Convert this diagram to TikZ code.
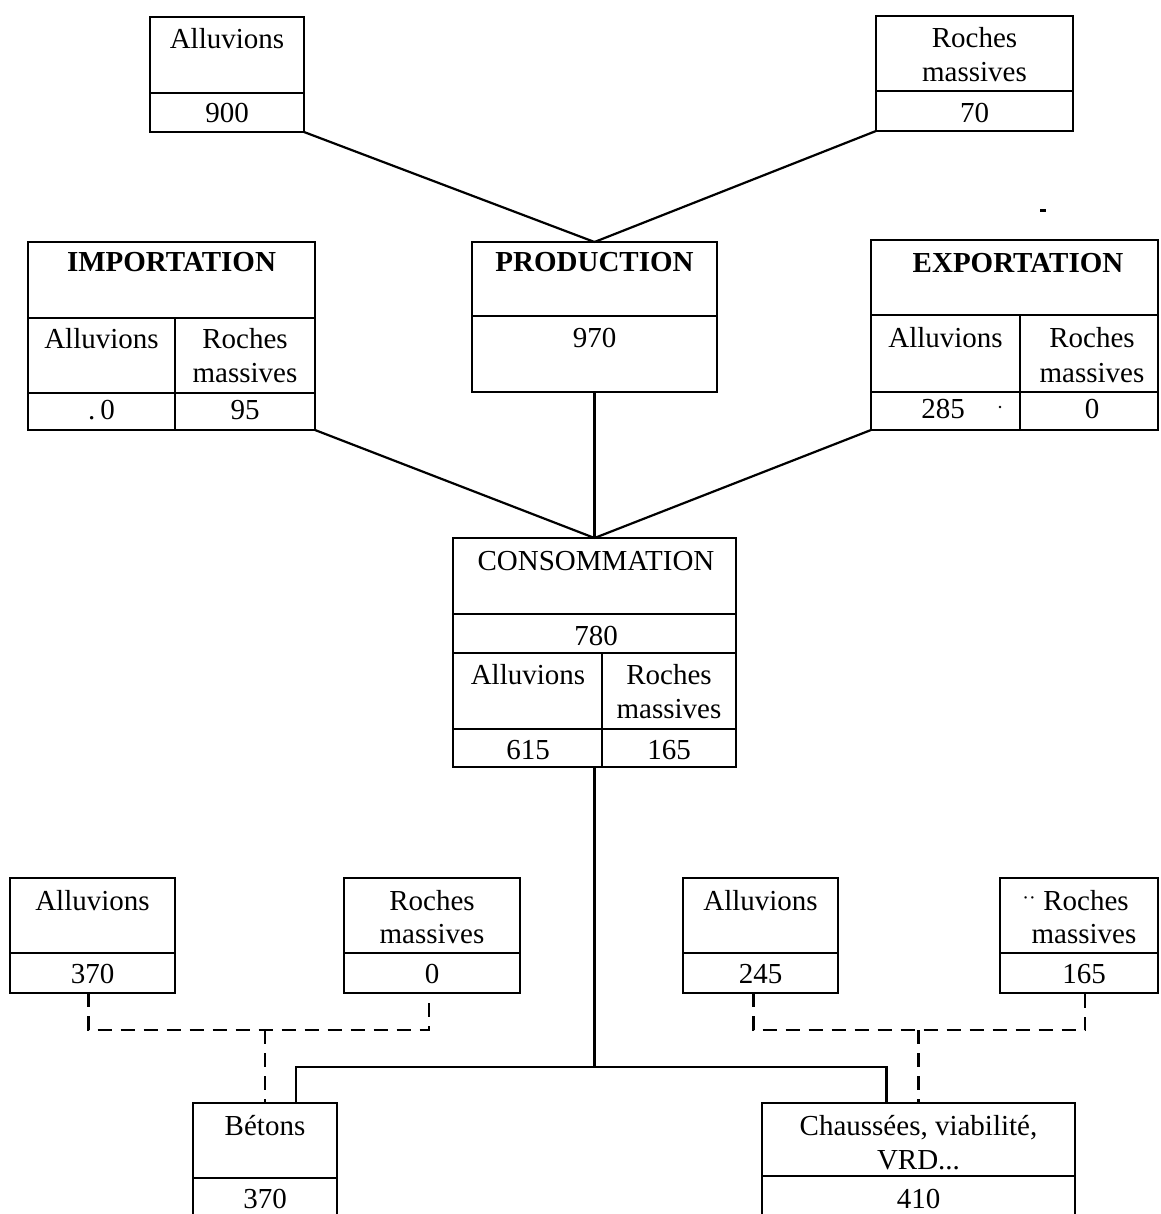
\documentclass[tikz,border=0pt]{standalone}
\usepackage{fontspec}
\setmainfont{Liberation Serif}
\newcommand{\lbfont}{\fontsize{29}{34}\selectfont}
\begin{document}
\begin{tikzpicture}[x=1pt,y=-1pt,
  box/.style={draw, line width=2.6pt, anchor=north west, inner sep=0pt, outer sep=0pt},
  lbl/.style={anchor=base, inner sep=0pt, font=\lbfont},
  hd/.style={lbl, font=\lbfont\bfseries},
  conn/.style={line width=2.2pt},
  dconn/.style={line width=2.2pt, dash pattern=on 14pt off 9pt},
  div/.style={line width=2.4pt}]
\useasboundingbox (0,0) rectangle (1160,1214);
\fill[white] (0,0) rectangle (1160,1214);
\clip (0,0) rectangle (1160,1214);

% ---------- top production sources ----------
\node[box, minimum width=154pt, minimum height=115pt] (a1) at (150,17) {};
\draw[div] (150,93) -- (304,93);
\node[lbl] (a1t) at (227,49) {Alluvions};
\node[lbl] (a1v) at (227,123) {900};

\node[box, minimum width=197pt, minimum height=115pt] (r1) at (876,16) {};
\draw[div] (876,91) -- (1073,91);
\node[lbl] (r1t) at (974.5,48) {Roches};
\node[lbl] (r1u) at (974.5,82) {massives};
\node[lbl] (r1v) at (974.5,123) {70};

% ---------- importation ----------
\node[box, minimum width=287pt, minimum height=188pt] (imp) at (28,242) {};
\draw[div] (28,318) -- (315,318);
\draw[div] (28,393) -- (315,393);
\draw[div] (175,318) -- (175,430);
\node[hd] (impt) at (171.5,272) {IMPORTATION};
\node[lbl] (impa) at (101.5,348) {Alluvions};
\node[lbl] (impr) at (245,348) {Roches};
\node[lbl] (impm) at (245,382) {massives};
\node[lbl] (impav) at (101.5,419) {.\,0};
\node[lbl] (imprv) at (245,419) {95};

% ---------- production ----------
\node[box, minimum width=245pt, minimum height=150pt] (prod) at (472,242) {};
\draw[div] (472,316) -- (717,316);
\node[hd] (prodt) at (594.5,272) {PRODUCTION};
\node[lbl] (prodv) at (594.5,347) {970};

% ---------- exportation ----------
\node[box, minimum width=287pt, minimum height=190pt] (exp) at (871,240) {};
\draw[div] (871,315) -- (1158,315);
\draw[div] (871,392) -- (1158,392);
\draw[div] (1020,315) -- (1020,430);
\node[hd] (expt) at (1018,273) {EXPORTATION};
\node[lbl] (expa) at (945.5,347) {Alluvions};
\node[lbl] (expr) at (1092,347) {Roches};
\node[lbl] (expm) at (1092,382) {massives};
\node[lbl] (expav) at (943,418) {285};
\node[lbl] (exprv) at (1092,418) {0};
\fill (1000,407) circle (1.4pt);
\fill (1040,209) rectangle (1046,212);

% ---------- consommation ----------
\node[box, minimum width=283pt, minimum height=229pt] (cons) at (453,538) {};
\draw[div] (453,614) -- (736,614);
\draw[div] (453,653) -- (736,653);
\draw[div] (453,729) -- (736,729);
\draw[div] (602,653) -- (602,767);
\node[lbl] (const) at (596,570) {CONSOMMATION};
\node[lbl] (consv) at (596,645) {780};
\node[lbl] (consa) at (528,684) {Alluvions};
\node[lbl] (consr) at (669,684) {Roches};
\node[lbl] (consm) at (669,718) {massives};
\node[lbl] (consav) at (528,759) {615};
\node[lbl] (consrv) at (669,759) {165};

% ---------- bottom sources ----------
\node[box, minimum width=165pt, minimum height=115pt] (ba) at (10,878) {};
\draw[div] (10,953) -- (175,953);
\node[lbl] (bat) at (92.5,910) {Alluvions};
\node[lbl] (bav) at (92.5,983) {370};

\node[box, minimum width=176pt, minimum height=115pt] (br) at (344,878) {};
\draw[div] (344,953) -- (520,953);
\node[lbl] (brt) at (432,910) {Roches};
\node[lbl] (bru) at (432,943) {massives};
\node[lbl] (brv) at (432,983) {0};

\node[box, minimum width=155pt, minimum height=115pt] (ca) at (683,878) {};
\draw[div] (683,953) -- (838,953);
\node[lbl] (cat) at (760.5,910) {Alluvions};
\node[lbl] (cav) at (760.5,983) {245};

\node[box, minimum width=158pt, minimum height=115pt] (cr) at (1000,878) {};
\draw[div] (1000,953) -- (1158,953);
\node[lbl] (crt) at (1086,910) {Roches};
\node[lbl, anchor=base east] (crd) at (1036,904) {\fontsize{20}{20}\selectfont ··};
\node[lbl] (cru) at (1084,943) {massives};
\node[lbl] (crv) at (1084,983) {165};

% ---------- uses ----------
\node[box, minimum width=144pt, minimum height=130pt] (bet) at (193,1103) {};
\draw[div] (193,1178) -- (337,1178);
\node[lbl] (bett) at (265,1135) {Bétons};
\node[lbl] (betv) at (265,1208) {370};

\node[box, minimum width=313pt, minimum height=130pt] (ch) at (762,1103) {};
\draw[div] (762,1176) -- (1075,1176);
\node[lbl] (cht) at (918.5,1135) {Chaussées, viabilité,};
\node[lbl] (chu) at (918.5,1169) {VRD...};
\node[lbl] (chv) at (918.5,1208) {410};

% ---------- connectors ----------
\draw[conn] (a1.south east) -- (prod.north);
\draw[conn] (r1.south west) -- (prod.north);
\draw[conn] (imp.south east) -- (cons.north);
\draw[conn] (prod.south) -- (cons.north);
\draw[conn] (exp.south west) -- (cons.north);

\coordinate (jn) at (594.5,1067);
\draw[conn] (cons.south) -- (jn);
\draw[conn] (jn) -| ([xshift=31pt]bet.north);
\draw[conn] (jn) -| ([xshift=-32pt]ch.north);

\coordinate (dl) at (265,1030);
\draw[dconn] ([xshift=-4pt]ba.south) -- ([xshift=-4pt]ba.south |- dl) -- ([xshift=-3pt]br.south |- dl) -- ([xshift=-3pt]br.south);
\draw[dconn] (dl) -- (bet.north);

\coordinate (dr) at (918.5,1030);
\draw[dconn] ([xshift=-7pt]ca.south) -- ([xshift=-7pt]ca.south |- dr) -- ([xshift=6pt]cr.south |- dr) -- ([xshift=6pt]cr.south);
\draw[dconn] (dr) -- (ch.north);
\end{tikzpicture}
\end{document}
